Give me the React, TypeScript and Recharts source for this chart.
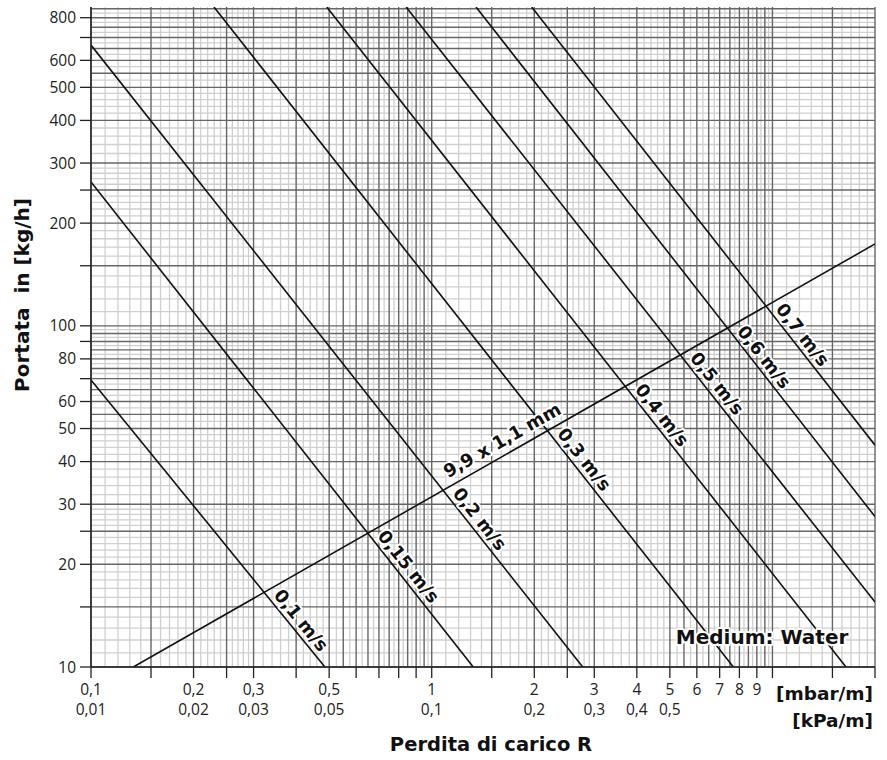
import { ComposedChart, Line, XAxis, YAxis, CartesianGrid, ReferenceDot, Label } from 'recharts';

// Pressure loss R [mbar/m] on x, mass flow [kg/h] on y, both logarithmic
const R_RANGE: [number, number] = [0.1, 20];
const Q_RANGE: [number, number] = [10, 860];

const R_TICKS = [0.1, 0.15, 0.2, 0.25, 0.3, 0.4, 0.5, 0.6, 0.7, 0.8, 0.9, 1, 1.5, 2, 2.5, 3, 4, 5, 6, 7, 8, 9, 10, 15, 20];
const R_LABELS_MBAR: Record<number, string> = {
    0.1: '0,1', 0.2: '0,2', 0.3: '0,3', 0.5: '0,5', 1: '1', 2: '2', 3: '3', 4: '4', 5: '5', 6: '6', 7: '7', 8: '8', 9: '9',
};
const R_LABELS_KPA: Record<number, string> = {
    0.1: '0,01', 0.2: '0,02', 0.3: '0,03', 0.5: '0,05', 1: '0,1', 2: '0,2', 3: '0,3', 4: '0,4', 5: '0,5',
};

const Q_TICKS = [10, 15, 20, 25, 30, 40, 50, 60, 70, 80, 90, 100, 150, 200, 250, 300, 400, 500, 600, 700, 800];
const Q_LABELS = [10, 20, 30, 40, 50, 60, 80, 100, 200, 300, 400, 500, 600, 800];

// log paper pattern inside one decade (dark and light rulings)
const MAJOR_STEPS = [1, 1.5, 2, 2.5, 3, 4, 5, 5.5, 6, 6.5, 7, 7.5, 8, 8.5, 9, 9.5];
const MINOR_STEPS = [
    1.1, 1.2, 1.3, 1.4, 1.6, 1.7, 1.8, 1.9, 2.1, 2.2, 2.3, 2.4, 2.6, 2.7, 2.8, 2.9,
    3.2, 3.4, 3.6, 3.8, 4.2, 4.4, 4.6, 4.8,
    5.25, 5.75, 6.25, 6.75, 7.25, 7.75, 8.25, 8.75, 9.25, 9.75,
];

// velocity lines, end points in (R, kg/h)
const V_010 = [{ r: 0.1, q: 69.4 }, { r: 0.486, q: 10 }];
const V_015 = [{ r: 0.1, q: 264 }, { r: 1.324, q: 10 }];
const V_020 = [{ r: 0.1, q: 665 }, { r: 2.775, q: 10 }];
const V_030 = [{ r: 0.2296, q: 860 }, { r: 7.68, q: 10 }];
const V_040 = [{ r: 0.492, q: 860 }, { r: 16.44, q: 10 }];
const V_050 = [{ r: 0.841, q: 860 }, { r: 20, q: 15.5 }];
const V_060 = [{ r: 1.349, q: 860 }, { r: 20, q: 27.6 }];
const V_070 = [{ r: 1.965, q: 860 }, { r: 20, q: 44.7 }];

// pipe 9,9 x 1,1 mm
const PIPE = [{ r: 0.1331, q: 10 }, { r: 20, q: 173.8 }];

const VELOCITY_LINES = [V_010, V_015, V_020, V_030, V_040, V_050, V_060, V_070];
const VELOCITY_NAMES = ['0,1 m/s', '0,15 m/s', '0,2 m/s', '0,3 m/s', '0,4 m/s', '0,5 m/s', '0,6 m/s', '0,7 m/s'];
// where each velocity line crosses the pipe line
const VELOCITY_CROSSINGS = [
    { r: 0.322, q: 16.55 },
    { r: 0.65, q: 24.7 },
    { r: 1.08, q: 32.9 },
    { r: 2.19, q: 49.2 },
    { r: 3.7, q: 66.4 },
    { r: 5.37, q: 82.1 },
    { r: 7.38, q: 98.4 },
    { r: 9.58, q: 114.2 },
];
const PIPE_NAME = '9,9 x 1,1 mm';
const PIPE_TAG_AT = { r: 1.147, q: 34.1 };

const PLOT = { left: 91, top: 7, width: 784, height: 660 };
const BOLD = '"DejaVu Sans", sans-serif';
const REGULAR = '"Open Sans", sans-serif';

function decadeValues(steps: number[], range: [number, number]) {
    const out: number[] = [];
    for (let d = Math.floor(Math.log10(range[0])); d <= Math.ceil(Math.log10(range[1])); d++) {
        steps.forEach((s) => {
            const v = +(s * Math.pow(10, d)).toPrecision(6);
            if (v >= range[0] && v <= range[1]) out.push(v);
        });
    }
    return out;
}

const MAJOR_R = decadeValues(MAJOR_STEPS, R_RANGE);
const MINOR_R = decadeValues(MINOR_STEPS, R_RANGE);
const MAJOR_Q = decadeValues(MAJOR_STEPS, Q_RANGE);
const MINOR_Q = decadeValues(MINOR_STEPS, Q_RANGE);

// on-screen slope of a line segment, in degrees
function screenAngle(pts: { r: number; q: number }[]) {
    const a = pts[0];
    const b = pts[pts.length - 1];
    const dx = (PLOT.width * Math.log10(b.r / a.r)) / Math.log10(R_RANGE[1] / R_RANGE[0]);
    const dy = (-PLOT.height * Math.log10(b.q / a.q)) / Math.log10(Q_RANGE[1] / Q_RANGE[0]);
    return (Math.atan2(dy, dx) * 180) / Math.PI;
}

const haloText = {
    fontFamily: BOLD,
    fontWeight: 700,
    fill: '#111',
    stroke: '#fff',
    strokeWidth: 4,
    strokeLinejoin: 'round' as const,
    paintOrder: 'stroke' as const,
};

function RTick({ x, y, payload }: any) {
    const v = payload.value;
    return (
        <g fontFamily={REGULAR} fontSize={15.5} fill="#222">
            {R_LABELS_MBAR[v] && (
                <text x={x} y={y + 15} textAnchor="middle">{R_LABELS_MBAR[v]}</text>
            )}
            {R_LABELS_KPA[v] && (
                <text x={x} y={y + 35} textAnchor="middle">{R_LABELS_KPA[v]}</text>
            )}
        </g>
    );
}

function QTick({ x, y, payload }: any) {
    if (!Q_LABELS.includes(payload.value)) return <g />;
    return (
        <text x={x} y={y} dy="0.36em" textAnchor="end" fontFamily={REGULAR} fontSize={15.5} fill="#222">
            {payload.value}
        </text>
    );
}

function XTitles() {
    return (
        <g style={{ fontFamily: BOLD, fontWeight: 700 }} fill="#111">
            <text x={873} y={700} textAnchor="end" fontSize={18.5}>[mbar/m]</text>
            <text x={873} y={727} textAnchor="end" fontSize={18.5}>[kPa/m]</text>
            <text x={491} y={751} textAnchor="middle" fontSize={19.5}>Perdita di carico R</text>
        </g>
    );
}

function YTitle() {
    return (
        <text
            x={29}
            y={295}
            transform="rotate(-90, 29, 295)"
            textAnchor="middle"
            fontFamily={BOLD}
            fontWeight={700}
            fontSize={20}
            fill="#111"
            style={{ whiteSpace: 'pre' }}
        >
            {'Portata  in [kg/h]'}
        </text>
    );
}

export default function App() {
    return (
        <div style={{ position: 'absolute', left: 0, top: 0, background: '#fff' }}>
            <ComposedChart
                width={887}
                height={760}
                margin={{ top: PLOT.top, right: 887 - PLOT.left - PLOT.width, bottom: 0, left: 0 }}
            >
                <CartesianGrid stroke="#cfcfcf" strokeWidth={1.3} verticalValues={MINOR_R} horizontalValues={MINOR_Q} />
                <CartesianGrid stroke="#666" strokeWidth={1.4} verticalValues={MAJOR_R} horizontalValues={MAJOR_Q} />

                <XAxis
                    dataKey="r"
                    type="number"
                    scale="log"
                    domain={R_RANGE}
                    allowDataOverflow
                    ticks={R_TICKS}
                    interval={0}
                    height={760 - PLOT.top - PLOT.height}
                    tickSize={11}
                    tickMargin={2}
                    tick={(p: any) => <RTick {...p} />}
                    axisLine={{ stroke: '#222', strokeWidth: 1.5 }}
                    tickLine={{ stroke: '#222', strokeWidth: 1.3 }}
                >
                    <Label content={() => <XTitles />} />
                </XAxis>
                <YAxis
                    dataKey="q"
                    type="number"
                    scale="log"
                    domain={Q_RANGE}
                    allowDataOverflow
                    ticks={Q_TICKS}
                    interval={0}
                    width={PLOT.left}
                    tickSize={11}
                    tickMargin={4}
                    tick={(p: any) => <QTick {...p} />}
                    axisLine={{ stroke: '#222', strokeWidth: 1.5 }}
                    tickLine={{ stroke: '#222', strokeWidth: 1.3 }}
                >
                    <Label content={() => <YTitle />} />
                </YAxis>

                {VELOCITY_LINES.map((pts, i) => (
                    <Line
                        key={VELOCITY_NAMES[i]}
                        data={pts}
                        dataKey="q"
                        type="linear"
                        stroke="#111"
                        strokeWidth={1.6}
                        dot={false}
                        activeDot={false}
                        isAnimationActive={false}
                    />
                ))}
                <Line
                    data={PIPE}
                    dataKey="q"
                    type="linear"
                    stroke="#111"
                    strokeWidth={1.6}
                    dot={false}
                    activeDot={false}
                    isAnimationActive={false}
                />

                {VELOCITY_CROSSINGS.map((c, i) => (
                    <ReferenceDot
                        key={`tag-${i}`}
                        x={c.r}
                        y={c.q}
                        shape={(p: any) => (
                            <g transform={`translate(${p.cx},${p.cy}) rotate(${screenAngle(VELOCITY_LINES[i])})`}>
                                <text x={8} y={-5} fontSize={18} {...haloText}>{VELOCITY_NAMES[i]}</text>
                            </g>
                        )}
                    />
                ))}
                <ReferenceDot
                    x={PIPE_TAG_AT.r}
                    y={PIPE_TAG_AT.q}
                    shape={(p: any) => (
                        <g transform={`translate(${p.cx},${p.cy}) rotate(${screenAngle(PIPE)})`}>
                            <text x={0} y={-8} fontSize={18} {...haloText}>{PIPE_NAME}</text>
                        </g>
                    )}
                />
                <ReferenceDot
                    x={16.7}
                    y={11.7}
                    shape={(p: any) => (
                        <text x={p.cx} y={p.cy} textAnchor="end" fontSize={20} {...haloText}>Medium: Water</text>
                    )}
                />
            </ComposedChart>
        </div>
    );
}
